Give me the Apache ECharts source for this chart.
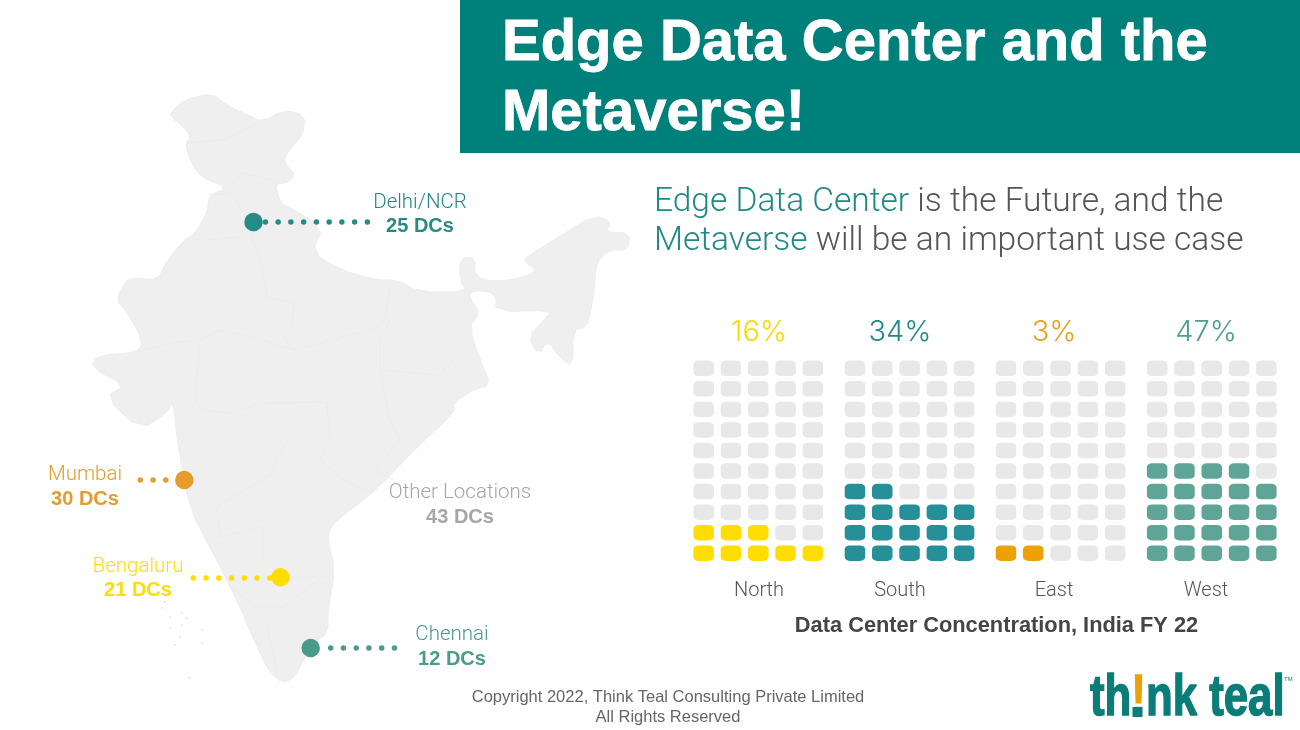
<!DOCTYPE html>
<html>
<head>
<meta charset="utf-8">
<title>Edge Data Center and the Metaverse</title>
<script src="https://cdn.jsdelivr.net/npm/echarts@6/dist/echarts.min.js"></script>
<style>
  html, body { margin: 0; padding: 0; background: #fff; }
  #main { width: 1300px; height: 730px; }
</style>
</head>
<body>
<div id="main"></div>
<script>
// waffle data
var regions = ['North', 'South', 'East', 'West'];
var regionShare = [16, 34, 3, 47];
var filledCells = [8, 17, 2, 24];
var regionColors = ['#ffdd00', '#25909a', '#eda107', '#5fa597'];
var shareColors = ['#fbd900', '#1f8a88', '#e9a023', '#4f9e8e'];
var gridLefts = [690, 841.3, 992.3, 1143.5];
var regionLabelX = [759, 900, 1054, 1206];

// city data
var cityNames = ['Delhi/NCR', 'Mumbai', 'Bengaluru', 'Chennai', 'Other Locations'];
var cityCounts = [25, 30, 21, 12, 43];
var cityColors = ['#258c85', '#e59c2d', '#ffdd00', '#4a9c8a', '#a6a6a6'];
var cityPoints = [[253.5, 222], [184.3, 480], [280.5, 577.3], [310.7, 648]];
var cityLinks = [
  [[265.4, 222], [367.5, 222]],
  [[140.3, 480], [166, 480]],
  [[193.3, 577.3], [270.5, 577.3]],
  [[330.7, 648], [394.5, 648]]
];
var cityLabelAt = [[420, 202.5], [85, 475], [138, 566.5], [452, 635], [460, 493]];

// outline of the country, in map units
var indiaOutline = [
  [171,112],[184,100],[212,93],[226,105],[248,115],[262,122],[284,110],[305,115],[303,135],[287,152],
  [284,163],[296,175],[285,184],[275,183],[280,203],[291,208],[323,227],[312,253],[341,270],[376,280],
  [398,280],[419,292],[467,292],[460,280],[460,258],[475,257],[475,277],[496,282],[525,277],[537,270],
  [525,262],[526,257],[559,237],[594,215],[612,222],[605,232],[630,233],[628,250],[609,250],[596,263],
  [594,293],[591,310],[587,327],[573,330],[573,367],[559,357],[548,340],[539,355],[528,337],[544,320],
  [553,310],[496,312],[496,293],[473,290],[469,297],[480,313],[469,327],[480,360],[491,385],[473,390],
  [453,403],[455,412],[417,447],[373,493],[347,512],[330,527],[328,540],[335,570],[328,610],[328,633],
  [313,643],[302,663],[295,677],[283,683],[270,673],[257,647],[237,600],[213,553],[190,510],[178,447],
  [173,400],[168,412],[140,430],[105,397],[126,385],[91,368],[98,355],[134,353],[144,343],[126,310],
  [116,300],[126,280],[135,278],[158,280],[166,262],[184,240],[194,235],[207,213],[209,195],[228,188],
  [201,177],[191,163],[185,143],[191,137],[184,127],[171,117]
];
var stateBorders = [
  [[187,143],[223,140],[259,122]],
  [[228,188],[241,173],[273,180],[280,203]],
  [[209,195],[230,193],[244,213],[252,237],[262,267],[267,297],[294,303],[292,327],[284,337],[294,350]],
  [[184,240],[210,240],[240,237]],
  [[134,353],[170,343],[200,340],[220,330],[262,340],[294,350],[370,330],[385,320],[390,287]],
  [[390,320],[380,340],[380,370],[440,375],[470,340]],
  [[380,370],[390,420],[400,440],[375,470],[393,480]],
  [[200,340],[195,400],[203,410],[230,413],[263,403],[327,402],[330,440],[320,460],[343,480],[373,493]],
  [[287,442],[277,457],[273,473],[217,507],[220,537],[263,527],[263,557],[283,577],[330,577]],
  [[230,587],[257,607],[283,607],[323,577]],
  [[267,627],[277,670]]
];
var lakshadweep = [
  [165,602],[162,608],[182,613],[187,618],[170,617],[182,625],[170,628],[180,637],[202,630],[202,643],[175,645],[189,678]
];

function flip(p) { return [p[0], 730 - p[1]]; }

// rounds the hand traced corners a little
function roundCorners(ring) {
  var out = [];
  ring.forEach(function (p, i) {
    var q = ring[(i + 1) % ring.length];
    out.push([p[0] * 0.75 + q[0] * 0.25, p[1] * 0.75 + q[1] * 0.25]);
    out.push([p[0] * 0.25 + q[0] * 0.75, p[1] * 0.25 + q[1] * 0.75]);
  });
  return out;
}

var outlineRing = roundCorners(indiaOutline).map(flip);
outlineRing.push(outlineRing[0]);

echarts.registerMap('india', {
  type: 'FeatureCollection',
  features: [{
    type: 'Feature',
    properties: { name: 'India' },
    geometry: { type: 'Polygon', coordinates: [outlineRing] }
  }]
});

var myChart = echarts.init(document.getElementById('main'), null, { renderer: 'canvas' });

var sansFont = '"Liberation Sans", Arial, sans-serif';
var lightFont = 'Roboto, "Liberation Sans", sans-serif';
var grids = [], xAxes = [], yAxes = [], series = [], graphics = [];
var colNames = ['1', '2', '3', '4', '5'];
var rowNames = ['1', '2', '3', '4', '5', '6', '7', '8', '9', '10'];

// background map
series.push({
  type: 'lines',
  coordinateSystem: 'geo',
  polyline: true,
  silent: true,
  lineStyle: { color: '#ebebeb', width: 1, opacity: 1 },
  data: stateBorders.map(function (b) { return { coords: b.map(flip) }; })
});
series.push({
  type: 'scatter',
  coordinateSystem: 'geo',
  silent: true,
  symbolSize: 2,
  itemStyle: { color: '#e4e4e4', opacity: 1 },
  data: lakshadweep.map(flip)
});

// dotted connectors and the city dots
cityPoints.forEach(function (p, i) {
  series.push({
    type: 'lines',
    coordinateSystem: 'geo',
    silent: true,
    lineStyle: { color: cityColors[i], width: 5.5, opacity: 1, type: [0, 12.75], cap: 'round' },
    data: [{ coords: cityLinks[i].map(flip) }]
  });
  series.push({
    type: 'scatter',
    coordinateSystem: 'geo',
    silent: true,
    symbol: 'circle',
    symbolSize: 18.5,
    itemStyle: { color: cityColors[i], opacity: 1 },
    data: [flip(p)]
  });
});

// one small grid per region
regions.forEach(function (name, i) {
  grids.push({ left: gridLefts[i], top: 358, width: 136.5, height: 205.5 });
  xAxes.push({
    gridIndex: i,
    type: 'category',
    data: colNames,
    axisLine: { show: false },
    axisTick: { show: false },
    axisLabel: { show: false },
    splitLine: { show: false }
  });
  yAxes.push({
    gridIndex: i,
    type: 'category',
    data: rowNames,
    axisLine: { show: false },
    axisTick: { show: false },
    axisLabel: { show: false },
    splitLine: { show: false }
  });
  var full = [], empty = [];
  for (var r = 0; r < rowNames.length; r++) {
    for (var c = 0; c < colNames.length; c++) {
      var n = r * colNames.length + c;
      (n < filledCells[i] ? full : empty).push([c, r]);
    }
  }
  [[empty, '#e8e8e8'], [full, regionColors[i]]].forEach(function (s) {
    series.push({
      type: 'scatter',
      xAxisIndex: i,
      yAxisIndex: i,
      silent: true,
      symbol: 'roundRect',
      symbolSize: [20.5, 15.5],
      itemStyle: { color: s[1], opacity: 1 },
      data: s[0]
    });
  });
  graphics.push({
    type: 'text',
    x: regionLabelX[i],
    y: 332,
    style: {
      text: regionShare[i] + '%',
      fill: shareColors[i],
      font: '300 29px Inter, "Noto Sans", sans-serif',
      textAlign: 'center',
      textVerticalAlign: 'middle'
    }
  });
  graphics.push({
    type: 'text',
    x: regionLabelX[i],
    y: 590.5,
    style: {
      text: name,
      fill: '#555555',
      font: '300 20px ' + lightFont,
      textAlign: 'center',
      textVerticalAlign: 'middle'
    }
  });
});

// city labels
cityNames.forEach(function (name, i) {
  graphics.push({
    type: 'text',
    x: cityLabelAt[i][0],
    y: cityLabelAt[i][1],
    style: {
      text: name,
      fill: cityColors[i] === '#258c85' ? '#1f8884' : cityColors[i],
      font: '300 20.5px ' + lightFont,
      textAlign: 'center',
      textVerticalAlign: 'middle'
    }
  });
  graphics.push({
    type: 'text',
    x: cityLabelAt[i][0],
    y: cityLabelAt[i][1] + 24,
    style: {
      text: cityCounts[i] + ' DCs',
      fill: cityColors[i],
      font: 'bold 20px ' + sansFont,
      textAlign: 'center',
      textVerticalAlign: 'middle'
    }
  });
});

// banner, headings, footer
graphics.push({
  type: 'rect',
  z: -1,
  shape: { x: 460, y: 0, width: 840, height: 153 },
  style: { fill: '#00807b' }
});
['Edge Data Center and the', 'Metaverse!'].forEach(function (line, i) {
  graphics.push({
    type: 'text',
    x: 502,
    y: 43.5 + i * 70,
    style: {
      text: line,
      fill: '#ffffff',
      stroke: '#ffffff',
      lineWidth: 0.8,
      font: 'bold 58px ' + sansFont,
      textVerticalAlign: 'middle'
    }
  });
});
[['Edge Data Center', ' is the Future, and the', 203], ['Metaverse', ' will be an important use case', 242]].forEach(function (l) {
  graphics.push({
    type: 'text',
    x: 654,
    y: l[2],
    style: {
      text: '{a|' + l[0] + '}{b|' + l[1] + '}',
      textVerticalAlign: 'middle',
      rich: {
        a: { fill: '#1f8a84', font: '300 33.5px ' + lightFont },
        b: { fill: '#555555', font: '300 33.5px ' + lightFont }
      }
    }
  });
});
graphics.push({
  type: 'text',
  x: 996.5,
  y: 626,
  style: {
    text: 'Data Center Concentration, India FY 22',
    fill: '#454545',
    font: 'bold 21.8px ' + sansFont,
    textAlign: 'center',
    textVerticalAlign: 'middle'
  }
});
['Copyright 2022, Think Teal Consulting Private Limited', 'All Rights Reserved'].forEach(function (line, i) {
  graphics.push({
    type: 'text',
    x: 668,
    y: 697 + i * 20,
    style: {
      text: line,
      fill: '#666666',
      font: '16.5px ' + sansFont,
      textAlign: 'center',
      textVerticalAlign: 'middle'
    }
  });
});
graphics.push({
  type: 'text',
  x: 1090,
  y: 699,
  scaleX: 0.755,
  style: {
    text: '{a|th}{b|!}{a|nk teal}',
    textVerticalAlign: 'middle',
    rich: {
      a: { fill: '#0b7d79', stroke: '#0b7d79', lineWidth: 1.5, font: 'bold 58px ' + sansFont },
      b: { fill: '#eda107', stroke: '#eda107', lineWidth: 1.5, font: 'bold 58px ' + sansFont }
    }
  }
});
// the point of the logo's "!" is teal
graphics.push({
  type: 'rect',
  z: 10,
  shape: { x: 1132.5, y: 707, width: 10, height: 10 },
  style: { fill: '#0b7d79' }
});
graphics.push({
  type: 'text',
  x: 1284,
  y: 679,
  style: { text: 'TM', fill: '#0b7d79', font: '6px ' + sansFont, textVerticalAlign: 'middle' }
});

var option = {
  animation: false,
  backgroundColor: '#ffffff',
  geo: {
    map: 'india',
    roam: false,
    silent: true,
    aspectScale: 1,
    left: 0,
    top: 0,
    width: 1300,
    height: 730,
    boundingCoords: [[0, 730], [1300, 0]],
    label: { show: false },
    itemStyle: { areaColor: '#efefef', borderColor: '#ededed', borderWidth: 1 }
  },
  grid: grids,
  xAxis: xAxes,
  yAxis: yAxes,
  series: series,
  graphic: graphics
};

myChart.setOption(option);
</script>
</body>
</html>
